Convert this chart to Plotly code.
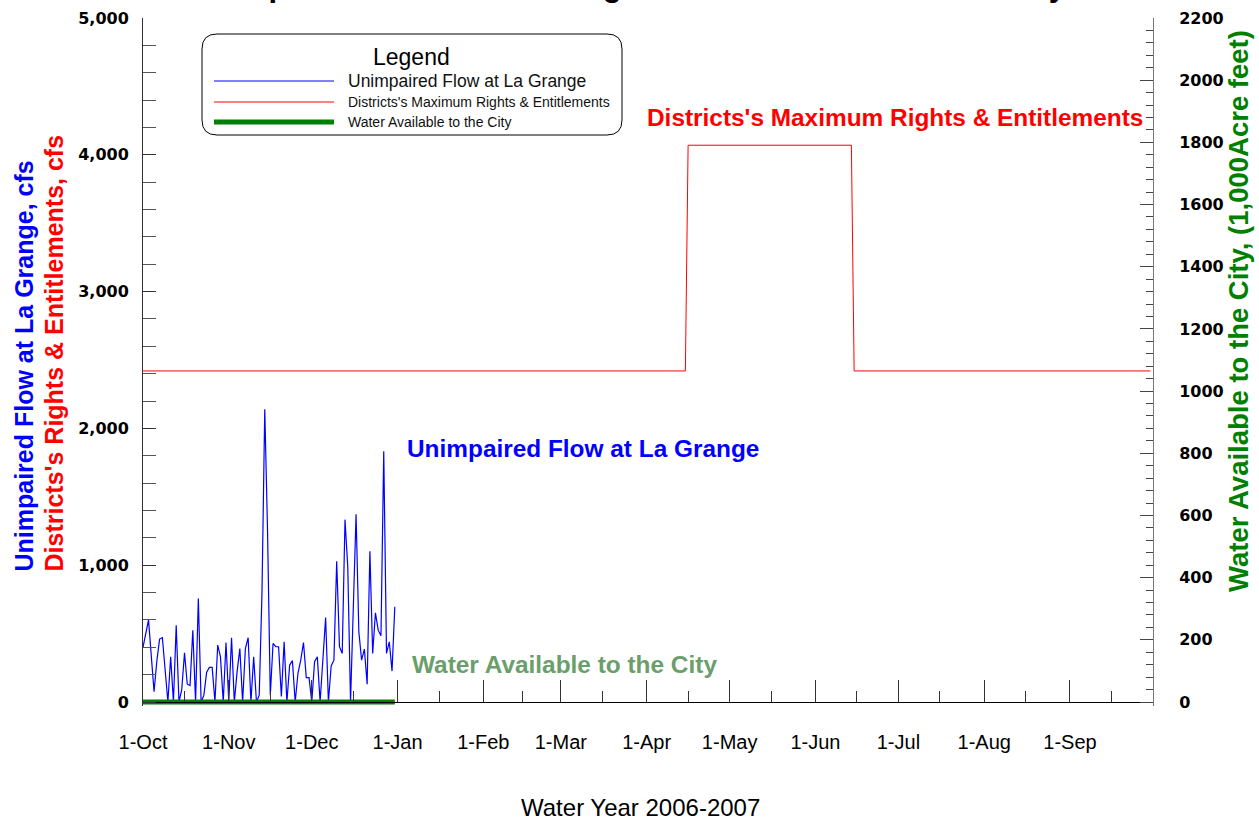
import plotly.graph_objects as go
import pandas as pd

# ---------------- data ----------------
flow_dates = pd.date_range("2006-10-01", "2006-12-31", freq="D")
flow_cfs = [400, 500, 600, 335, 75, 300, 460, 470, 200, 0,
            330, 0, 560, 0, 90, 360, 130, 120, 525, 0,
            757, 0, 50, 217, 253, 253, 0, 416, 330, 0,
            435, 0, 470, 0, 220, 390, 0, 390, 470, 0,
            330, 0, 50, 800, 2140, 1260, 50, 428, 404, 404,
            40, 440, 0, 270, 302, 0, 210, 306, 435, 178,
            178, 0, 294, 330, 0, 330, 618, 0, 263, 306,
            1029, 404, 355, 1333, 988, 0, 647, 1372, 513, 306,
            387, 130, 1102, 355, 652, 525, 484, 1832, 355, 440,
            226, 696]

rights_dates = ["2006-10-01", "2007-04-15", "2007-04-16",
                "2007-06-14", "2007-06-15", "2007-09-30"]
rights_cfs = [2420, 2420, 4070, 4070, 2420, 2420]

city_dates = ["2006-10-01", "2006-12-31"]
city_kaf = [0, 0]

month_ticks = ["2006-10-01", "2006-11-01", "2006-12-01", "2007-01-01",
               "2007-02-01", "2007-03-01", "2007-04-01", "2007-05-01",
               "2007-06-01", "2007-07-01", "2007-08-01", "2007-09-01",
               "2007-10-01"]
month_labels = ["1-Oct", "1-Nov", "1-Dec", "1-Jan", "1-Feb", "1-Mar",
                "1-Apr", "1-May", "1-Jun", "1-Jul", "1-Aug", "1-Sep", ""]
mid_ticks = ["2006-10-16", "2006-11-16", "2006-12-16", "2007-01-16",
             "2007-02-15", "2007-03-16", "2007-04-16", "2007-05-16",
             "2007-06-16", "2007-07-16", "2007-08-16", "2007-09-16"]

left_ticks = [0, 1000, 2000, 3000, 4000, 5000]
right_ticks = [0, 200, 400, 600, 800, 1000, 1200, 1400, 1600, 1800, 2000, 2200]
left_max = 5000
right_max = 2200

# ---------------- layout (page pixel targets) ----------------
W, H = 1259, 820
L, R, T, B = 143, 1153, 18, 702   # plot frame on the page
EXTRA = 4                    # room below zero so the thick line isn't clipped
B2 = B + EXTRA
d_low = EXTRA / (B2 - T)


def px(x):
    return (x - L) / (R - L)


def py(y):
    return (B2 - y) / (B2 - T)


ARIAL = "Arial, Liberation Sans, sans-serif"
TICKFONT = dict(family="DejaVu Sans, Verdana, sans-serif", size=16, color="black", weight="bold")

fig = go.Figure()
fig.add_trace(go.Scatter(x=flow_dates, y=flow_cfs, mode="lines",
                         line=dict(color="#0000ff", width=1.2),
                         name="Unimpaired Flow at La Grange"))
fig.add_trace(go.Scatter(x=rights_dates, y=rights_cfs, mode="lines",
                         line=dict(color="#ff0000", width=1),
                         name="Districts's Maximum Rights & Entitlements"))
fig.add_trace(go.Scatter(x=city_dates, y=city_kaf, mode="lines", yaxis="y2",
                         line=dict(color="#008000", width=5),
                         name="Water Available to the City"))

y1_low = -left_max * EXTRA / (B - T)
y2_low = -right_max * EXTRA / (B - T)

fig.update_layout(
    width=W, height=H,
    margin=dict(l=L, r=W - R, t=T, b=H - B2, pad=0, autoexpand=False),
    paper_bgcolor="white", plot_bgcolor="white",
    showlegend=False,
    xaxis=dict(type="date", range=["2006-10-01", "2007-10-01"], automargin=False,
               anchor="free", position=d_low,
               tickvals=month_ticks, ticktext=month_labels,
               ticks="inside", ticklen=22, tickwidth=1, tickcolor="#333",
               showline=True, linecolor="black", linewidth=1,
               showgrid=False, zeroline=False,
               tickfont=dict(family=ARIAL, size=20, color="black"),
               ticklabelstandoff=22,
               minor=dict(tickvals=mid_ticks, ticks="inside", ticklen=11,
                          tickcolor="#333", tickwidth=1, showgrid=False)),
    yaxis=dict(range=[y1_low, left_max], tickvals=left_ticks, tickformat=",",
               automargin=False,
               ticks="inside", ticklen=13, tickcolor="#333", tickwidth=1,
               showline=True, linecolor="#333", linewidth=1,
               showgrid=False, zeroline=False, tickfont=TICKFONT,
               ticklabelstandoff=10,
               minor=dict(tickvals=[v for v in range(200, left_max, 200)],
                          ticks="inside", ticklen=13,
                          tickcolor="#555", showgrid=False)),
    yaxis2=dict(range=[y2_low, right_max], tickvals=right_ticks,
                overlaying="y", side="right", anchor="x", automargin=False,
                ticks="inside", ticklen=13, tickcolor="#444", tickwidth=1,
                showline=True, linecolor="#777", linewidth=1,
                showgrid=False, zeroline=False, tickfont=TICKFONT,
                ticklabelstandoff=22,
                minor=dict(tickvals=[v for v in range(40, right_max, 40)],
                           ticks="inside", ticklen=7,
                           tickcolor="#444", showgrid=False)),
)

ann = []
# chart title (mostly above the visible page)
ann.append(dict(text="Unimpaired Flow at La Grange & Water Available to the City",
                x=px(629), y=py(-15), xref="paper", yref="paper",
                xanchor="center", yanchor="middle", showarrow=False,
                font=dict(family=ARIAL, size=31, color="black", weight="bold")))
# axis titles
ann.append(dict(text="Unimpaired Flow at La Grange, cfs", textangle=-90,
                x=px(23), y=py(574), xref="paper", yref="paper",
                xanchor="center", yanchor="bottom", showarrow=False,
                font=dict(family=ARIAL, size=25, color="#0000ff", weight="bold")))
ann.append(dict(text="Districts's Rights & Entitlements, cfs", textangle=-90,
                x=px(53), y=py(574), xref="paper", yref="paper",
                xanchor="center", yanchor="bottom", showarrow=False,
                font=dict(family=ARIAL, size=25, color="#ff0000", weight="bold")))
ann.append(dict(text="Water Available to the City, (1,000Acre feet)", textangle=-90,
                x=px(1238), y=py(311), xref="paper", yref="paper",
                xanchor="center", yanchor="middle", showarrow=False,
                font=dict(family=ARIAL, size=27.5, color="#008000", weight="bold")))
ann.append(dict(text="Water Year 2006-2007",
                x=px(640), y=py(807), xref="paper", yref="paper",
                xanchor="center", yanchor="middle", showarrow=False,
                font=dict(family=ARIAL, size=24, color="black")))
# series labels
ann.append(dict(text="Districts's Maximum Rights & Entitlements",
                x=px(645), y=py(117), xref="paper", yref="paper",
                xanchor="left", yanchor="middle", showarrow=False,
                font=dict(family=ARIAL, size=24.4, color="#ff0000", weight="bold")))
ann.append(dict(text="Unimpaired Flow at La Grange",
                x=px(405), y=py(448), xref="paper", yref="paper",
                xanchor="left", yanchor="middle", showarrow=False,
                font=dict(family=ARIAL, size=24.4, color="#0000ff", weight="bold")))
ann.append(dict(text="Water Available to the City",
                x=px(410), y=py(664), xref="paper", yref="paper",
                xanchor="left", yanchor="middle", showarrow=False,
                font=dict(family=ARIAL, size=24.4, color="#6a9e6a", weight="bold")))
# legend texts
ann.append(dict(text="Legend", x=px(411), y=py(57), xref="paper", yref="paper",
                xanchor="center", yanchor="middle", showarrow=False,
                font=dict(family=ARIAL, size=23, color="black")))
ann.append(dict(text="Unimpaired Flow at La Grange", x=px(346), y=py(81),
                xref="paper", yref="paper", xanchor="left", yanchor="middle",
                showarrow=False, font=dict(family=ARIAL, size=17.5, color="#111")))
ann.append(dict(text="Districts's Maximum Rights & Entitlements", x=px(346), y=py(102),
                xref="paper", yref="paper", xanchor="left", yanchor="middle",
                showarrow=False, font=dict(family=ARIAL, size=14, color="#111")))
ann.append(dict(text="Water Available to the City", x=px(346), y=py(122),
                xref="paper", yref="paper", xanchor="left", yanchor="middle",
                showarrow=False, font=dict(family=ARIAL, size=14, color="#111")))
fig.update_layout(annotations=ann)

# legend box (rounded rectangle) and sample lines
x0, x1, y0, y1, r = 202, 622, 34, 135, 15
rx, ry = r / (R - L), r / (B2 - T)
X0, X1, Y0, Y1 = px(x0), px(x1), py(y0), py(y1)
path = (f"M {X0 + rx},{Y0} L {X1 - rx},{Y0} Q {X1},{Y0} {X1},{Y0 - ry} "
        f"L {X1},{Y1 + ry} Q {X1},{Y1} {X1 - rx},{Y1} "
        f"L {X0 + rx},{Y1} Q {X0},{Y1} {X0},{Y1 + ry} "
        f"L {X0},{Y0 - ry} Q {X0},{Y0} {X0 + rx},{Y0} Z")
shapes = [dict(type="path", path=path, xref="paper", yref="paper",
               line=dict(color="black", width=1), fillcolor="white", layer="above")]
for yy, col, w in [(81, "#0000ff", 1), (102, "#ff0000", 1), (122, "#008000", 5)]:
    shapes.append(dict(type="line", xref="paper", yref="paper",
                       x0=px(214), x1=px(334), y0=py(yy), y1=py(yy),
                       line=dict(color=col, width=w), layer="above"))
fig.update_layout(shapes=shapes)

fig.write_html("out.html", config={"displayModeBar": False},
               post_script="document.body.style.margin='0px';")
